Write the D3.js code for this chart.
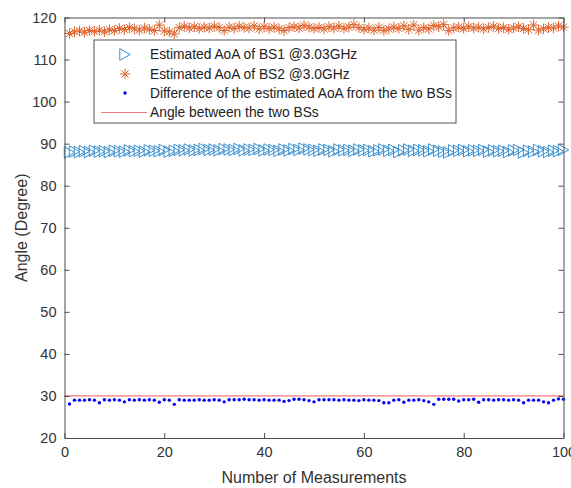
<!DOCTYPE html>
<html>
<head>
<meta charset="utf-8">
<script src="https://cdn.jsdelivr.net/npm/d3@7"></script>
<style>
  html, body { margin: 0; padding: 0; background: #fff; }
  svg { display: block; font-family: "Liberation Sans", Arial, Helvetica, sans-serif; }
</style>
</head>
<body>
<svg id="chart" width="571" height="488"></svg>
<script>
// Estimated angle of arrival per measurement (degrees)
const bs1AoA = [
  87.9, 88.1, 88.0, 88.2, 88.0, 88.3, 88.1, 88.2, 88.0, 88.3,
  88.2, 88.1, 88.4, 88.2, 88.3, 88.1, 88.4, 88.3, 88.2, 88.5,
  88.1, 88.3, 88.5, 88.4, 88.6, 88.4, 88.5, 88.7, 88.5, 88.6,
  88.4, 88.7, 88.6, 88.5, 88.7, 88.4, 88.6, 88.5, 88.7, 88.4,
  88.6, 88.5, 88.3, 88.6, 88.4, 88.7, 88.5, 88.8, 88.6, 88.5,
  88.3, 88.6, 88.5, 88.2, 88.6, 88.4, 88.5, 88.3, 88.6, 88.4,
  88.5, 88.2, 88.4, 88.6, 88.3, 88.5, 88.0, 88.4, 88.6, 88.3,
  88.5, 88.4, 88.2, 88.6, 88.3, 88.1, 87.9, 88.4, 88.3, 88.5,
  88.2, 88.4, 88.3, 88.5, 88.1, 88.4, 88.2, 88.3, 88.0, 88.4,
  88.5, 87.9, 88.3, 88.1, 88.5, 88.2, 88.0, 88.3, 88.2, 88.5
];
const bs2AoA = [
  116.2, 116.6, 116.8, 116.5, 116.9, 116.7, 117.0, 116.6, 117.1, 116.9,
  117.4, 117.1, 117.6, 117.3, 117.0, 117.5, 117.2, 116.9, 118.2, 116.8,
  116.6, 116.1, 117.6, 117.9, 117.5, 117.8, 117.4, 117.7, 117.5, 117.9,
  117.6, 116.9, 117.7, 117.4, 117.9, 117.6, 117.5, 118.0, 117.3, 117.8,
  117.4, 117.7, 117.3, 116.9, 117.6, 117.8, 117.5, 118.1, 117.7, 117.4,
  117.6, 117.3, 117.8, 117.5, 117.9, 117.4, 117.7, 118.3, 117.6, 117.2,
  117.5, 117.0, 117.6, 116.9, 117.3, 117.7, 117.4, 118.0, 117.2, 118.2,
  117.0, 117.6, 117.3, 118.1, 117.8, 118.3, 116.9, 117.5, 117.7, 117.4,
  117.8, 117.5, 117.7, 117.3, 117.6, 117.9, 117.4, 117.6, 117.2, 117.5,
  117.8, 117.4, 117.1, 118.2, 117.0, 117.3, 117.6, 117.5, 118.0, 117.7
];
const aoaDifference = [
  28.1, 29.0, 29.0, 29.0, 29.1, 29.0, 28.4, 29.1, 29.0, 29.1,
  29.0, 28.6, 29.1, 29.0, 29.1, 29.0, 29.1, 29.0, 28.5, 29.1,
  29.0, 28.0, 29.1, 29.0, 29.0, 29.0, 29.1, 29.0, 29.0, 29.1,
  29.0, 28.6, 29.1, 29.1, 29.1, 29.2, 29.1, 29.1, 29.0, 29.1,
  29.0, 29.0, 29.0, 28.7, 28.9, 29.2, 29.2, 29.1, 28.9, 28.6,
  29.1, 29.1, 29.1, 29.1, 29.0, 29.1, 29.0, 29.0, 28.9, 29.1,
  29.0, 29.0, 28.9, 28.4, 28.4, 29.0, 29.1, 28.5, 29.0, 29.0,
  29.1, 28.9, 28.6, 28.0, 29.2, 29.2, 29.2, 29.2, 28.8, 29.1,
  29.1, 29.2, 28.5, 29.1, 29.1, 29.0, 29.1, 29.1, 29.0, 29.1,
  29.0, 28.4, 29.0, 29.0, 29.0, 28.6, 28.4, 29.0, 29.3, 29.2
];
const trueAngle = 30;
const xTicks = [0, 20, 40, 60, 80, 100];
const yTicks = [20, 30, 40, 50, 60, 70, 80, 90, 100, 110, 120];
const legendLabels = [
  "Estimated AoA of BS1 @3.03GHz",
  "Estimated AoA of BS2 @3.0GHz",
  "Difference of the estimated AoA from the two BSs",
  "Angle between the two BSs"
];

const colors = { bs1: "#3a8fcf", bs2: "#e0622a", diff: "#0000ff", angle: "#f27a7a", axis: "#4d4d4d", text: "#333333" };

const svg = d3.select("#chart");
const W = 571, H = 488;
const margin = { left: 64.5, right: W - 563.5, top: 17.5, bottom: H - 438 };

const x = d3.scaleLinear().domain([0, 100]).range([margin.left, W - margin.right]);
const y = d3.scaleLinear().domain([20, 120]).range([H - margin.bottom, margin.top]);

// Marker shapes: right-pointing triangle and eight-ray asterisk
const triangleRight = {
  draw(ctx, size) {
    const r = Math.sqrt(size) / 2;
    ctx.moveTo(r * 0.9, 0);
    ctx.lineTo(-r * 0.9, -r);
    ctx.lineTo(-r * 0.9, r);
    ctx.closePath();
  }
};
const asterisk = {
  draw(ctx, size) {
    const r = Math.sqrt(size) / 2;
    const d = r * Math.SQRT1_2;
    ctx.moveTo(-r, 0); ctx.lineTo(r, 0);
    ctx.moveTo(0, -r); ctx.lineTo(0, r);
    ctx.moveTo(-d, -d); ctx.lineTo(d, d);
    ctx.moveTo(-d, d); ctx.lineTo(d, -d);
  }
};
const triPath = d3.symbol().type(triangleRight).size(135)();
const starPath = d3.symbol().type(asterisk).size(110)();

const idx = d3.range(1, 101);

// Plot clip
svg.append("defs").append("clipPath").attr("id", "plotclip")
  .append("rect")
  .attr("x", x(0) - 7).attr("y", y(120) - 7)
  .attr("width", x(100) - x(0) + 14).attr("height", y(20) - y(120) + 7);

const plot = svg.append("g").attr("clip-path", "url(#plotclip)");

// True angle reference line
plot.append("line")
  .attr("x1", x(0)).attr("x2", x(100))
  .attr("y1", y(trueAngle)).attr("y2", y(trueAngle))
  .attr("stroke", colors.angle).attr("stroke-width", 1.2);

// BS1 triangles
plot.append("g").selectAll("path").data(idx).join("path")
  .attr("d", triPath)
  .attr("transform", i => `translate(${x(i)},${y(bs1AoA[i - 1])})`)
  .attr("fill", "none").attr("stroke", colors.bs1).attr("stroke-width", 1);

// BS2 asterisks
plot.append("g").selectAll("path").data(idx).join("path")
  .attr("d", starPath)
  .attr("transform", i => `translate(${x(i)},${y(bs2AoA[i - 1])})`)
  .attr("fill", "none").attr("stroke", colors.bs2).attr("stroke-width", 1);

// Difference dots
plot.append("g").selectAll("circle").data(idx).join("circle")
  .attr("cx", i => x(i)).attr("cy", i => y(aoaDifference[i - 1]))
  .attr("r", 1.7).attr("fill", colors.diff);

// Axes (ticks inward on all four sides)
const tickLen = 5;
const axisBottom = d3.axisBottom(x).tickValues(xTicks).tickSizeInner(-tickLen).tickSizeOuter(0).tickPadding(9);
const axisLeft = d3.axisLeft(y).tickValues(yTicks).tickSizeInner(-tickLen).tickSizeOuter(0).tickPadding(8);
const axisTop = d3.axisTop(x).tickValues(xTicks).tickSizeInner(-tickLen).tickSizeOuter(0).tickFormat("");
const axisRight = d3.axisRight(y).tickValues(yTicks).tickSizeInner(-tickLen).tickSizeOuter(0).tickFormat("");

function styleAxis(g) {
  g.selectAll(".domain").attr("stroke", colors.axis).attr("stroke-width", 1);
  g.selectAll(".tick line").attr("stroke", colors.axis).attr("stroke-width", 1);
  g.selectAll(".tick text").attr("fill", colors.text).attr("font-size", 14.5)
    .attr("font-family", '"Liberation Sans", Arial, sans-serif');
}
svg.append("g").attr("transform", `translate(0,${y(20)})`).call(axisBottom).call(styleAxis);
svg.append("g").attr("transform", `translate(${x(0)},0)`).call(axisLeft).call(styleAxis);
svg.append("g").attr("transform", `translate(0,${y(120)})`).call(axisTop).call(styleAxis);
svg.append("g").attr("transform", `translate(${x(100)},0)`).call(axisRight).call(styleAxis);

// Axis titles
svg.append("text")
  .attr("x", (x(0) + x(100)) / 2).attr("y", 483)
  .attr("text-anchor", "middle").attr("font-size", 16).attr("fill", colors.text)
  .text("Number of Measurements");
svg.append("text")
  .attr("transform", `translate(27,${(y(20) + y(120)) / 2}) rotate(-90)`)
  .attr("text-anchor", "middle").attr("font-size", 16).attr("fill", colors.text)
  .text("Angle (Degree)");

// Legend
const legend = svg.append("g").attr("transform", "translate(94,40)");
legend.append("rect")
  .attr("width", 362).attr("height", 83)
  .attr("fill", "#fff").attr("stroke", "#555").attr("stroke-width", 1);
const rowY = [14.5, 34, 53, 72.5];
legend.append("path").attr("d", triPath)
  .attr("transform", `translate(31,${rowY[0]})`)
  .attr("fill", "none").attr("stroke", colors.bs1).attr("stroke-width", 1);
legend.append("path").attr("d", starPath)
  .attr("transform", `translate(31,${rowY[1]})`)
  .attr("fill", "none").attr("stroke", colors.bs2).attr("stroke-width", 1);
legend.append("circle").attr("cx", 31).attr("cy", rowY[2]).attr("r", 1.7).attr("fill", colors.diff);
legend.append("line").attr("x1", 7).attr("x2", 53).attr("y1", rowY[3]).attr("y2", rowY[3])
  .attr("stroke", colors.angle).attr("stroke-width", 1.2);
legend.selectAll("text.lbl").data(legendLabels).join("text")
  .attr("class", "lbl")
  .attr("x", 56).attr("y", (d, i) => rowY[i])
  .attr("dy", "0.35em").attr("font-size", 13.8).attr("fill", "#222")
  .text(d => d);
</script>
</body>
</html>
